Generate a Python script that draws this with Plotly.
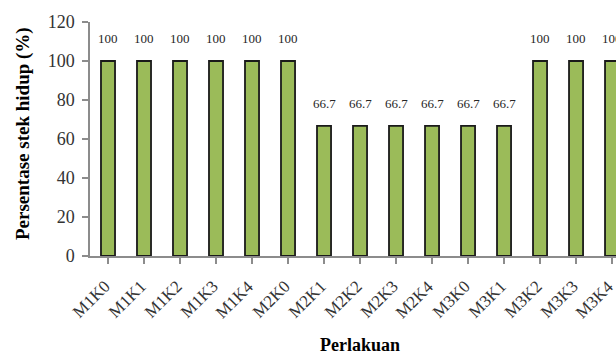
import plotly.graph_objects as go

# Treatments and survival percentages
perlakuan = ["M1K0", "M1K1", "M1K2", "M1K3", "M1K4", "M2K0", "M2K1", "M2K2",
             "M2K3", "M2K4", "M3K0", "M3K1", "M3K2", "M3K3", "M3K4"]
persentase = [100, 100, 100, 100, 100, 100, 66.7, 66.7,
              66.7, 66.7, 66.7, 66.7, 100, 100, 100]
y_ticks = [0, 20, 40, 60, 80, 100, 120]

serif = "Liberation Serif, Times New Roman, serif"
axis_grey = "#8c8c8c"

fig = go.Figure()
fig.add_trace(go.Bar(
    x=list(range(len(perlakuan))),
    y=persentase,
    marker=dict(color="#9BBB59", line=dict(color="#1a1a1a", width=1.8)),
    width=0.39,
    hoverinfo="skip",
))

# value labels above each bar
for i, v in enumerate(persentase):
    fig.add_annotation(
        x=i, y=v, text=f"{v:g}", showarrow=False,
        xref="x", yref="y", yanchor="bottom", yshift=13,
        font=dict(family=serif, size=13, color="#262626"),
    )

# slanted category labels under the axis, ending at each category centre
for i, name in enumerate(perlakuan):
    fig.add_annotation(
        x=i, y=0, text=name, showarrow=False, textangle=-45,
        xref="x", yref="y", xanchor="right", yanchor="top",
        xshift=8, yshift=-18,
        font=dict(family=serif, size=17, color="#333333"),
    )

fig.add_annotation(
    text="<b>Persentase stek hidup (%)</b>", textangle=-90, showarrow=False,
    xref="paper", yref="paper", x=0, y=0.5, xanchor="center", yanchor="middle",
    xshift=-67, yshift=5, font=dict(family=serif, size=19, color="#000000"),
)
fig.add_annotation(
    text="<b>Perlakuan</b>", showarrow=False,
    xref="paper", yref="paper", x=0.5, y=0, xanchor="center", yanchor="middle",
    xshift=7, yshift=-89, font=dict(family=serif, size=18, color="#000000"),
)

fig.update_xaxes(
    range=[-0.5, 14.11],
    tickmode="array", tickvals=list(range(len(perlakuan))), showticklabels=False,
    showline=True, linecolor=axis_grey, linewidth=1.5,
    ticks="outside", tickson="boundaries", ticklen=6, tickcolor=axis_grey, tickwidth=1.5,
    showgrid=False, zeroline=False,
)
fig.update_yaxes(
    range=[0, 120], tickvals=y_ticks,
    tickfont=dict(family=serif, size=18, color="#333333"),
    ticklabelstandoff=4,
    showline=True, linecolor=axis_grey, linewidth=1.5,
    ticks="outside", ticklen=6, tickcolor=axis_grey, tickwidth=1.5,
    showgrid=False, zeroline=False,
)

fig.update_layout(
    width=616, height=356,
    margin=dict(l=90, r=0, t=22, b=100, autoexpand=False),
    paper_bgcolor="white", plot_bgcolor="white",
    showlegend=False,
)

fig.write_html("out.html")
